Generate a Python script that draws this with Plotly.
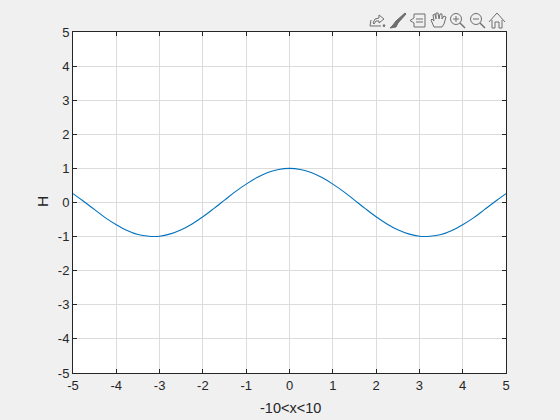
import math
import plotly.graph_objects as go

x_values = [-5, -4.75, -4.5, -4.25, -4, -3.75, -3.5, -3.25, -3, -2.75, -2.5, -2.25, -2, -1.75, -1.5, -1.25, -1, -0.75, -0.5, -0.25, 0,
            0.25, 0.5, 0.75, 1, 1.25, 1.5, 1.75, 2, 2.25, 2.5, 2.75, 3, 3.25, 3.5, 3.75, 4, 4.25, 4.5, 4.75, 5]
h_values = [0.26, 0.03, -0.21, -0.45, -0.65, -0.82, -0.94, -0.99, -0.99, -0.92, -0.80, -0.63, -0.42, -0.18, 0.07, 0.32, 0.54, 0.73, 0.88, 0.97, 1.0,
            0.97, 0.88, 0.73, 0.54, 0.32, 0.07, -0.18, -0.42, -0.63, -0.80, -0.92, -0.99, -0.99, -0.94, -0.82, -0.65, -0.45, -0.21, 0.03, 0.26]
tick_values = [-5, -4, -3, -2, -1, 0, 1, 2, 3, 4, 5]
x_label = "-10<x<10"
y_label = "H"

L, R, T, B = 73, 506, 32, 373
W, H = 560, 420
ICON = "#6e6e6e"


def pt(px, py):
    return f"{(px - L) / (R - L):.4f},{(B - py) / (B - T):.4f}"


def path(points, close=False):
    s = "M" + " L".join(pt(*p) for p in points)
    return s + (" Z" if close else "")


def circle(cx, cy, r, n=16):
    return path([(cx + r * math.cos(2 * math.pi * i / n), cy + r * math.sin(2 * math.pi * i / n)) for i in range(n)], True)


def icon(d, fill=None, width=1):
    return dict(type="path", xref="paper", yref="paper", path=d, layer="above",
                line=dict(color=ICON, width=width),
                fillcolor=fill if fill else "rgba(0,0,0,0)")


shapes = [
    # export
    icon(path([(371, 20), (370, 26), (381, 26)])),
    icon(path([(373, 23), (375, 19), (379, 18), (379, 15), (384, 19), (379, 23), (379, 21), (376, 21), (374, 24)], True)),
    icon(path([(383, 25), (385, 25), (384, 27)], True), ICON),
    # brush
    icon(path([(405, 13), (406, 14), (398, 23), (396, 21)], True), ICON),
    icon(path([(396, 21), (398, 23), (396, 27), (390, 28), (393, 25)], True), ICON),
    # data tips
    icon(path([(414, 14), (425, 14), (425, 27), (414, 27), (414, 23), (410, 20.5), (414, 18)], True)),
    icon(path([(416, 19), (423, 19)])),
    icon(path([(416, 22), (423, 22)])),
    # hand
    icon(path([(434, 27), (431, 20), (432, 19), (434, 21), (433, 15), (435, 14), (436, 19), (436, 13), (438, 13),
               (439, 19), (440, 14), (442, 14), (442, 19), (444, 16), (446, 17), (444, 24), (442, 27)], True)),
    # zoom in
    icon(circle(456, 19, 5.5)),
    icon(path([(460, 23), (465, 28)]), width=1.4),
    icon(path([(453, 19), (459, 19)])),
    icon(path([(456, 16), (456, 22)])),
    # zoom out
    icon(circle(476, 19, 5.5)),
    icon(path([(480, 23), (485, 28)]), width=1.4),
    icon(path([(473, 19), (479, 19)])),
    # home
    icon(path([(489, 22), (497, 13), (505, 22)])),
    icon(path([(492, 20), (492, 28), (495, 28), (495, 22), (499, 22), (499, 28), (502, 28), (502, 20)])),
]

axis_style = dict(
    range=[-5, 5],
    tickmode="array",
    tickvals=tick_values,
    ticktext=[str(v) for v in tick_values],
    ticks="inside",
    ticklen=4,
    tickwidth=1,
    tickcolor="#262626",
    showline=True,
    linecolor="#262626",
    linewidth=1,
    mirror="ticks",
    showgrid=True,
    gridcolor="#dcdcdc",
    gridwidth=1,
    zeroline=False,
    automargin=False,
    tickfont=dict(family="Liberation Sans", size=13, color="#262626"),
)

fig = go.Figure(go.Scatter(x=x_values, y=h_values, mode="lines", line=dict(color="#0072BD", width=1.1, shape="spline")))

fig.update_layout(
    width=W,
    height=H,
    margin=dict(l=L, r=W - R, t=T, b=H - B),
    paper_bgcolor="#f0f0f0",
    plot_bgcolor="#ffffff",
    showlegend=False,
    shapes=shapes,
    font=dict(family="Liberation Sans", color="#262626"),
    xaxis=axis_style,
    yaxis=axis_style,
    annotations=[
        dict(text=x_label, xref="paper", yref="paper", x=(290 - L) / (R - L), y=(B - 408) / (B - T),
             showarrow=False, xanchor="center", yanchor="middle", font=dict(size=14.5, color="#262626")),
        dict(text=y_label, xref="paper", yref="paper", x=(42 - L) / (R - L), y=(B - 202) / (B - T),
             showarrow=False, xanchor="center", yanchor="middle", textangle=-90, font=dict(size=15.5, color="#262626")),
    ],
)

fig.write_html(
    "out.html",
    config={"displayModeBar": False},
    post_script="document.body.style.margin='0';document.body.style.overflow='hidden';document.body.style.background='#f0f0f0';",
)
